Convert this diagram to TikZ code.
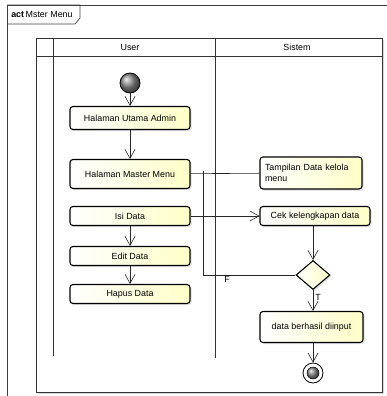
\documentclass[tikz,border=0pt]{standalone}
\usepackage{fontspec}
\setmainfont{Liberation Sans}
\usetikzlibrary{arrows.meta,shapes.geometric,shadows}

\begin{document}
\begin{tikzpicture}[x=1pt,y=-1pt,semithick,
    >={Straight Barb[length=9pt,width=10pt]},
    flow/.style={->,line width=0.6pt,draw=black!85},
    link/.style={line width=0.6pt,draw=black!85},
    frameline/.style={line width=0.7pt,draw=black!75},
    lane/.style={line width=0.8pt,draw=black!80},
    action/.style={draw=black,line width=1.1pt,rounded corners=3pt,
      left color=white,right color={rgb,255:red,255;green,255;blue,200},
      drop shadow={opacity=0.25,shadow xshift=1.5pt,shadow yshift=-1.5pt},
      minimum width=120pt,minimum height=19pt,inner sep=2pt,
      font=\fontsize{8.9}{10.5}\selectfont},
    decision/.style={diamond,draw=black,line width=1.1pt,
      left color=white,right color={rgb,255:red,255;green,255;blue,200},
      drop shadow={opacity=0.25,shadow xshift=1.5pt,shadow yshift=-1.5pt},
      minimum width=34pt,minimum height=29pt,inner sep=0pt},
    lbl/.style={font=\fontsize{8.9}{10.5}\selectfont,inner sep=1pt}]
  \useasboundingbox (0,0) rectangle (387,396);

  % frame and swimlanes
  \draw[frameline] (7,396) -- (7,5) -- (387,5);
  \draw[frameline] (7,5) -- (80,5) -- (80,18) -- (75,24) -- (7,24);
  \node[lbl,anchor=west] (title) at (10,14.5) {\textbf{act}\,Mster Menu};
  \fill[black!15] (38,40) rectangle (384,394);
  \draw[lane,fill=white] (36,38) rectangle (382,392);
  \draw[lane] (36,56) -- (382,56);
  \draw[lane] (53,38) -- (53,356);
  \draw[lane] (215,38) -- (215,358);
  \node[lbl] (user) at (130,47) {User};
  \node[lbl] (sistem) at (297,47) {Sistem};

  % user lane
  \node[circle,draw=black,line width=0.8pt,ball color=black!45,
    minimum size=20pt,inner sep=0pt] (init) at (130,83) {};
  \node[action,minimum height=23pt] (utama) at (130,118) {Halaman Utama Admin};
  \node[action,minimum height=29pt] (master) at (130,174) {Halaman Master Menu};
  \node[action] (isi) at (130,216) {Isi Data};
  \node[action] (edit) at (130,256) {Edit Data};
  \node[action] (hapus) at (130,294) {Hapus Data};

  % sistem lane
  \node[action,minimum width=102pt,minimum height=32pt,text width=92pt,
    align=left,inner xsep=5pt] (tampil) at (311,173) {Tampilan Data kelola\\menu};
  \node[action,minimum width=110pt] (cek) at (315,216) {Cek kelengkapan data};
  \node[decision] (dec) at (313,275) {};
  \node[action,minimum width=103pt,minimum height=31pt] (hasil) at (311.5,327) {data berhasil diinput};
  \node[circle,draw=black,line width=0.8pt,fill=white,
    minimum size=20pt,inner sep=0pt] (final) at (313,373) {};
  \node[circle,draw=black,line width=0.5pt,ball color=black!45,
    minimum size=12pt,inner sep=0pt] (finaldot) at (final) {};
  \coordinate (ftop) at (203,171);

  \draw[flow] (init) -- (utama);
  \draw[flow] (utama) -- (master);
  \draw[link] (master) -- (tampil);
  \draw[flow] (isi) -- (cek);
  \draw[flow] (isi) -- (edit);
  \draw[flow] (edit) -- (hapus);
  \draw[flow] (dec |- cek.south) -- (dec.north);
  \draw[flow] (dec.south) -- node[lbl,right,pos=0.35,inner sep=2pt] {T} (dec.south |- hasil.north);
  \draw[flow] (dec |- hasil.south) -- (final.north);
  \draw[link] (dec.west) -| node[lbl,below,pos=0.37] {F} (ftop);
\end{tikzpicture}
\end{document}
